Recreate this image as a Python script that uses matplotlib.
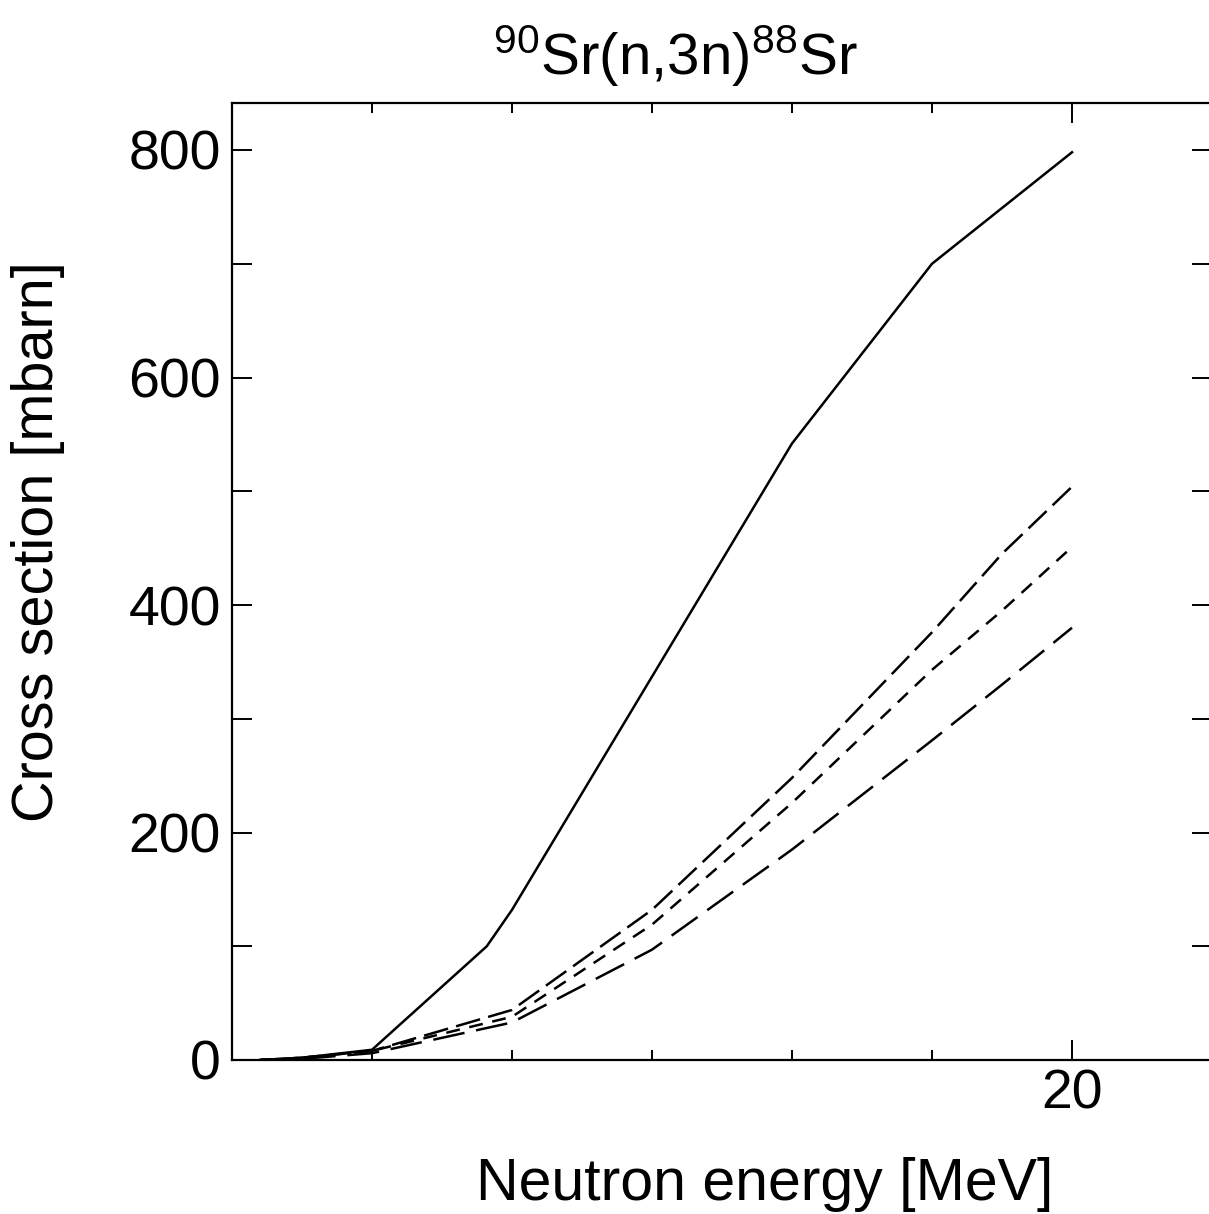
import numpy as np
import matplotlib
matplotlib.use("Agg")
import matplotlib.pyplot as plt
from matplotlib.ticker import FixedLocator, FuncFormatter

plt.rcParams['font.family'] = ['Liberation Sans', 'DejaVu Sans']
plt.rcParams['mathtext.fontset'] = 'custom'
plt.rcParams['mathtext.rm'] = 'Liberation Sans'
plt.rcParams['mathtext.it'] = 'Liberation Sans'
plt.rcParams['lines.scale_dashes'] = False

# neutron energy [MeV] and cross sections [mbarn]
energy = [14.2, 14.5, 15.0, 15.82, 16.0, 17.0, 18.0, 19.0, 20.0]
sigma_solid = [0, 2, 9, 100, 132, 337, 542, 700, 798]

energy_d = [14.2, 14.5, 15.0, 16.0, 17.0, 18.0, 19.0, 19.5, 20.0]
sigma_upper = [0, 2, 8, 44, 132, 248, 376, 445, 504]
sigma_middle = [0, 2, 8, 38, 119, 226, 343, 395, 451]
sigma_lower = [0, 1, 6, 33, 97, 185, 281, 330, 380]

yticks = [0, 100, 200, 300, 400, 500, 600, 700, 800]
xlabeled = [20]

W, H = 1209, 1214
fig = plt.figure(figsize=(W / 100, H / 100), dpi=100)
ax = fig.add_axes([232 / W, (H - 1060) / H, (1212 - 232) / W, (1060 - 103) / H])

lw = 1.8
ax.plot(energy, sigma_solid, color='black', lw=lw)
l1, = ax.plot(energy_d, sigma_upper, color='black', lw=lw)
l1.set_dashes([18, 6])
l2, = ax.plot(energy_d, sigma_middle, color='black', lw=lw)
l2.set_dashes([10, 7])
l3, = ax.plot(energy_d, sigma_lower, color='black', lw=lw)
l3.set_dashes([23, 8.5])

ax.set_xlim(14, 21)
ax.set_ylim(0, (1060 - 103) / 1.1375)

# x ticks: minor every MeV, only 20 labeled
ax.xaxis.set_major_locator(FixedLocator(xlabeled))
ax.xaxis.set_minor_locator(FixedLocator([15, 16, 17, 18, 19, 21]))
ax.tick_params(axis='x', which='major', direction='in', length=14.5, width=1.4,
               top=True, bottom=True, labelsize=40, pad=6)
ax.tick_params(axis='x', which='minor', direction='in', length=7.5, width=1.4,
               top=True, bottom=True)

ax.yaxis.set_major_locator(FixedLocator(yticks))
ax.yaxis.set_major_formatter(FuncFormatter(lambda v, p: f"{int(v)}" if int(v) % 200 == 0 else ""))
ax.tick_params(axis='y', which='major', direction='in', length=14.5, width=1.4,
               left=True, right=True, labelsize=40, pad=8)

for s in ax.spines.values():
    s.set_linewidth(1.6)

fig.text(676 / W, 1 - 75 / H, r"$^{90}$Sr(n,3n)$^{88}$Sr", fontsize=42,
         ha='center', va='baseline')
fig.text(765 / W, 1 - 1200 / H, "Neutron energy [MeV]", fontsize=42.5,
         ha='center', va='baseline')
fig.text(38 / W, 1 - 542 / H, "Cross section [mbarn]", fontsize=41.5,
         ha='center', va='center', rotation=90)

fig.savefig("out.png", dpi=100)
